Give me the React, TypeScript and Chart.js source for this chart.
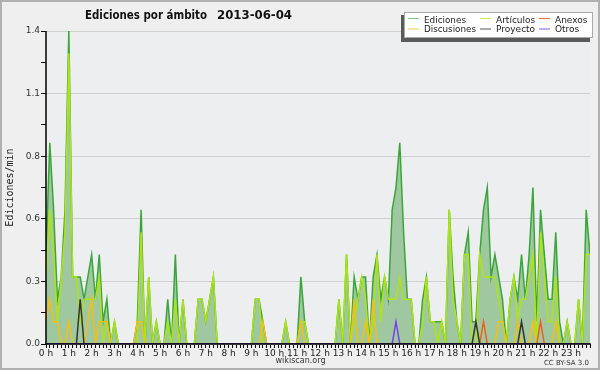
import React, { useEffect, useRef } from 'react';
import { Chart, registerables } from 'chart.js';

Chart.register(...registerables);

const hourLabels = [
  '0 h', '1 h', '2 h', '3 h', '4 h', '5 h', '6 h', '7 h', '8 h', '9 h', '10 h', '11 h',
  '12 h', '13 h', '14 h', '15 h', '16 h', '17 h', '18 h', '19 h', '20 h', '21 h', '22 h', '23 h',
];
const slotMinutes = ['00', '10', '20', '30', '40', '50'];
const timeSlots = hourLabels.flatMap((_, h) => slotMinutes.map((m) => `${h}:${m}`));

const yTicks = [0, 0.14, 0.28, 0.42, 0.56, 0.7, 0.84, 0.98, 1.12, 1.26, 1.4];

const ediciones = [
  0.4, 0.9, 0.6, 0.2, 0.3, 0.6,
  1.4, 0.3, 0.3, 0.3, 0.2, 0.3,
  0.4, 0.2, 0.4, 0.1, 0.2, 0,
  0.1, 0, 0, 0, 0, 0,
  0.1, 0.6, 0, 0.3, 0, 0.1,
  0, 0, 0.2, 0, 0.4, 0,
  0.2, 0, 0, 0, 0.2, 0.2,
  0.1, 0.2, 0.3, 0, 0, 0,
  0, 0, 0, 0, 0, 0,
  0, 0.2, 0.2, 0.1, 0, 0,
  0, 0, 0, 0.1, 0, 0,
  0, 0.3, 0.1, 0, 0, 0,
  0, 0, 0, 0, 0, 0.2,
  0, 0.4, 0, 0.3, 0.2, 0.3,
  0.3, 0, 0.3, 0.4, 0.2, 0.3,
  0.2, 0.6, 0.7, 0.9, 0.5, 0.2,
  0.2, 0, 0, 0.2, 0.3, 0.1,
  0.1, 0.1, 0.1, 0, 0.6, 0.3,
  0.1, 0, 0.4, 0.5, 0.1, 0.1,
  0.4, 0.6, 0.7, 0.3, 0.4, 0.3,
  0.2, 0, 0.2, 0.3, 0.2, 0.4,
  0.2, 0.4, 0.7, 0.1, 0.6, 0.4,
  0.2, 0.2, 0.5, 0.1, 0, 0.1,
  0, 0, 0.2, 0, 0.6, 0.4,
];

const articulos = [
  0.3, 0.6, 0.4, 0.1, 0.3, 0.5,
  1.3, 0.3, 0.3, 0.1, 0.2, 0.2,
  0.2, 0.2, 0.3, 0, 0.1, 0,
  0.1, 0, 0, 0, 0, 0,
  0, 0.5, 0, 0.3, 0, 0.1,
  0, 0, 0.1, 0, 0.2, 0,
  0.2, 0, 0, 0, 0.2, 0.2,
  0.1, 0.2, 0.3, 0, 0, 0,
  0, 0, 0, 0, 0, 0,
  0, 0.2, 0.2, 0, 0, 0,
  0, 0, 0, 0.1, 0, 0,
  0, 0.1, 0.1, 0, 0, 0,
  0, 0, 0, 0, 0, 0.2,
  0, 0.4, 0, 0.1, 0.2, 0.3,
  0.2, 0, 0.1, 0.4, 0.1, 0.3,
  0.2, 0.2, 0.2, 0.3, 0.2, 0.2,
  0.2, 0, 0, 0.1, 0.3, 0.1,
  0.1, 0, 0.1, 0, 0.6, 0.2,
  0.1, 0, 0.4, 0.4, 0, 0,
  0.4, 0.3, 0.3, 0.3, 0.3, 0.2,
  0.1, 0, 0.2, 0.3, 0.1, 0.2,
  0.2, 0.3, 0.4, 0, 0.5, 0.3,
  0.1, 0.1, 0.3, 0, 0, 0.1,
  0, 0, 0.2, 0, 0.4, 0.4,
];

const discusiones = [
  0.1, 0.2, 0.1, 0.1, 0, 0,
  0.1, 0, 0, 0, 0, 0.1,
  0.2, 0, 0.1, 0.1, 0.1, 0,
  0, 0, 0, 0, 0, 0,
  0.1, 0.1, 0, 0, 0, 0,
  0, 0, 0, 0, 0, 0,
  0, 0, 0, 0, 0, 0,
  0, 0, 0, 0, 0, 0,
  0, 0, 0, 0, 0, 0,
  0, 0, 0, 0.1, 0, 0,
  0, 0, 0, 0, 0, 0,
  0, 0.1, 0, 0, 0, 0,
  0, 0, 0, 0, 0, 0,
  0, 0, 0, 0.2, 0, 0,
  0.1, 0, 0.2, 0, 0, 0,
  0, 0, 0, 0, 0, 0,
  0, 0, 0, 0, 0, 0,
  0, 0, 0, 0, 0, 0,
  0, 0, 0, 0, 0, 0,
  0, 0, 0, 0, 0, 0.1,
  0.1, 0, 0, 0, 0.1, 0,
  0, 0, 0.1, 0, 0, 0,
  0, 0, 0.1, 0, 0, 0,
  0, 0, 0, 0, 0, 0,
];

const anexos = [
  0, 0, 0, 0, 0, 0,
  0, 0, 0, 0, 0, 0,
  0, 0, 0, 0, 0, 0,
  0, 0, 0, 0, 0, 0,
  0, 0, 0, 0, 0, 0,
  0, 0, 0, 0, 0, 0,
  0, 0, 0, 0, 0, 0,
  0, 0, 0, 0, 0, 0,
  0, 0, 0, 0, 0, 0,
  0, 0, 0, 0, 0, 0,
  0, 0, 0, 0, 0, 0,
  0, 0, 0, 0, 0, 0,
  0, 0, 0, 0, 0, 0,
  0, 0, 0, 0, 0, 0,
  0, 0, 0, 0, 0, 0,
  0, 0, 0, 0, 0, 0,
  0, 0, 0, 0, 0, 0,
  0, 0, 0, 0, 0, 0,
  0, 0, 0, 0, 0, 0,
  0, 0.1, 0, 0, 0, 0,
  0, 0, 0, 0, 0, 0,
  0, 0, 0, 0, 0.1, 0,
  0, 0, 0, 0, 0, 0,
  0, 0, 0, 0, 0, 0,
];

const proyecto = [
  0, 0, 0, 0, 0, 0,
  0, 0, 0, 0.2, 0, 0,
  0, 0, 0, 0, 0, 0,
  0, 0, 0, 0, 0, 0,
  0, 0, 0, 0, 0, 0,
  0, 0, 0, 0, 0, 0,
  0, 0, 0, 0, 0, 0,
  0, 0, 0, 0, 0, 0,
  0, 0, 0, 0, 0, 0,
  0, 0, 0, 0, 0, 0,
  0, 0, 0, 0, 0, 0,
  0, 0, 0, 0, 0, 0,
  0, 0, 0, 0, 0, 0,
  0, 0, 0, 0, 0, 0,
  0, 0, 0, 0, 0, 0,
  0, 0, 0, 0, 0, 0,
  0, 0, 0, 0, 0, 0,
  0, 0, 0, 0, 0, 0,
  0, 0, 0, 0, 0, 0.1,
  0, 0, 0, 0, 0, 0,
  0, 0, 0, 0, 0, 0.1,
  0, 0, 0, 0, 0, 0,
  0, 0, 0, 0, 0, 0,
  0, 0, 0, 0, 0, 0,
];

const otros = [
  0, 0, 0, 0, 0, 0,
  0, 0, 0, 0, 0, 0,
  0, 0, 0, 0, 0, 0,
  0, 0, 0, 0, 0, 0,
  0, 0, 0, 0, 0, 0,
  0, 0, 0, 0, 0, 0,
  0, 0, 0, 0, 0, 0,
  0, 0, 0, 0, 0, 0,
  0, 0, 0, 0, 0, 0,
  0, 0, 0, 0, 0, 0,
  0, 0, 0, 0, 0, 0,
  0, 0, 0, 0, 0, 0,
  0, 0, 0, 0, 0, 0,
  0, 0, 0, 0, 0, 0,
  0, 0, 0, 0, 0, 0,
  0, 0, 0.1, 0, 0, 0,
  0, 0, 0, 0, 0, 0,
  0, 0, 0, 0, 0, 0,
  0, 0, 0, 0, 0, 0,
  0, 0, 0, 0, 0, 0,
  0, 0, 0, 0, 0, 0,
  0, 0, 0, 0, 0, 0,
  0, 0, 0, 0, 0, 0,
  0, 0, 0, 0, 0, 0,
];

const titleText = 'Ediciones por ámbito';
const dateText = '2013-06-04';
const yTitle = 'Ediciones/min';

const COL = {
  ediciones: '#3aa63a',
  edicionesFill: '#a0c8a0',
  articulos: '#aee414',
  discusiones: '#f2c010',
  anexos: '#f06020',
  proyecto: '#333333',
  otros: '#7a40f0',
};

const legendItems = [
  { label: 'Ediciones', color: '#7cc87c', col: 0, row: 0, w: 42 },
  { label: 'Artículos', color: '#c4ee50', col: 1, row: 0, w: 41 },
  { label: 'Anexos', color: '#f07040', col: 2, row: 0, w: 33 },
  { label: 'Discusiones', color: '#f4cc48', col: 0, row: 1, w: 52 },
  { label: 'Proyecto', color: '#555555', col: 1, row: 1, w: 40 },
  { label: 'Otros', color: '#8a55f0', col: 2, row: 1, w: 25 },
];

const decorPlugin = {
  id: 'decor',
  beforeDraw(chart: any) {
    const { ctx, chartArea: a, width, height } = chart;
    ctx.save();
    ctx.fillStyle = '#efefef';
    ctx.fillRect(0, 0, width, height);
    ctx.strokeStyle = '#b0b0b0';
    ctx.lineWidth = 2;
    ctx.strokeRect(1, 1, width - 2, height - 2);
    ctx.fillStyle = '#eceef0';
    ctx.fillRect(a.left, a.top, a.right - a.left, a.bottom - a.top);
    ctx.restore();
  },
  afterDatasetsDraw(chart: any) {
    const { ctx, chartArea: a } = chart;
    ctx.save();
    ctx.fillStyle = '#000';
    ctx.fillRect(a.left - 0.75, a.top, 1.5, a.bottom - a.top + 0.75);
    ctx.fillRect(a.left - 0.75, a.bottom - 0.75, a.right - a.left + 1.5, 1.5);
    ctx.restore();
  },
  afterDraw(chart: any) {
    const { ctx } = chart;
    ctx.save();
    // title
    ctx.fillStyle = '#111';
    ctx.textBaseline = 'alphabetic';
    ctx.textAlign = 'left';
    ctx.font = 'bold 12px "DejaVu Sans"';
    ctx.fillText(titleText, 85, 18.5, 122);
    ctx.fillText(dateText, 217, 18.5, 75);

    // legend
    ctx.fillStyle = '#5a5a5a';
    ctx.fillRect(401, 15, 189, 27);
    ctx.fillStyle = '#fff';
    ctx.fillRect(404, 12, 189, 26);
    ctx.strokeStyle = '#aaa';
    ctx.lineWidth = 1;
    ctx.strokeRect(404.5, 12.5, 188, 25);
    const colLine = [408, 480, 539];
    const colText = [424, 496, 555];
    const rowLine = [18.5, 29];
    const rowBase = [22.5, 32];
    ctx.font = '9px "DejaVu Sans"';
    legendItems.forEach((it) => {
      ctx.strokeStyle = it.color;
      ctx.lineWidth = 1;
      ctx.beginPath();
      ctx.moveTo(colLine[it.col], rowLine[it.row]);
      ctx.lineTo(colLine[it.col] + 11, rowLine[it.row]);
      ctx.stroke();
      ctx.fillStyle = '#222';
      ctx.fillText(it.label, colText[it.col], rowBase[it.row], it.w);
    });

    // footer
    ctx.fillStyle = '#333';
    ctx.textAlign = 'center';
    ctx.font = '9px "DejaVu Sans"';
    ctx.fillText('wikiscan.org', 300.5, 363, 50);
    ctx.textAlign = 'right';
    ctx.font = '7px "DejaVu Sans"';
    ctx.fillText('CC BY-SA 3.0', 589, 365);

    // y title
    ctx.translate(10.5, 187.5);
    ctx.rotate(-Math.PI / 2);
    ctx.textAlign = 'center';
    ctx.textBaseline = 'middle';
    ctx.fillStyle = '#222';
    ctx.font = '10px "DejaVu Sans Mono"';
    ctx.fillText(yTitle, 0, 0);
    ctx.restore();
  },
};

export default function App() {
  const ref = useRef<HTMLCanvasElement>(null);

  useEffect(() => {
    document.body.style.margin = '0';
    const canvas = ref.current;
    if (!canvas) return;
    const line = (label: string, data: number[], color: string, order: number, extra: any = {}) => ({
      label,
      data,
      borderColor: color,
      borderWidth: 1.5,
      pointRadius: 0,
      tension: 0,
      fill: false,
      order,
      clip: 0,
      ...extra,
    });
    const chart = new Chart(canvas, {
      type: 'line',
      data: {
        labels: timeSlots,
        datasets: [
          line('Ediciones', ediciones, COL.ediciones, 6, { fill: 'origin', backgroundColor: COL.edicionesFill }),
          line('Artículos', articulos, COL.articulos, 5),
          line('Discusiones', discusiones, COL.discusiones, 4),
          line('Anexos', anexos, COL.anexos, 3),
          line('Proyecto', proyecto, COL.proyecto, 2),
          line('Otros', otros, COL.otros, 1),
        ],
      },
      options: {
        responsive: false,
        animation: false,
        devicePixelRatio: 1,
        layout: { padding: { top: 31, right: 10, bottom: 10, left: 0 } },
        plugins: {
          legend: { display: false },
          title: { display: false },
          tooltip: { enabled: false },
        },
        scales: {
          x: {
            type: 'category',
            offset: false,
            afterFit: (s: any) => { s.height = 16; },
            ticks: {
              autoSkip: false,
              maxRotation: 0,
              minRotation: 0,
              padding: 0,
              color: '#222',
              font: { family: 'DejaVu Sans', size: 9 },
              callback: (_v: any, i: number) => (i % 6 === 0 ? hourLabels[i / 6] : ''),
            },
            grid: { drawOnChartArea: false, drawTicks: true, tickLength: 4, tickColor: '#000', color: '#000' },
            border: { display: false },
          },
          y: {
            min: 0,
            max: 1.4,
            afterFit: (s: any) => { s.width = 46; },
            afterBuildTicks: (s: any) => { s.ticks = yTicks.map((v) => ({ value: v })); },
            ticks: {
              autoSkip: false,
              padding: 1,
              color: '#333',
              font: { family: 'DejaVu Sans', size: 9 },
              callback: (v: any, i: number) => (i % 2 === 0 ? Number(v).toFixed(1) : ''),
            },
            grid: {
              color: (c: any) => (c.index % 2 === 0 ? '#cfcfcf' : 'rgba(0,0,0,0)'),
              tickColor: '#000',
              tickLength: 5,
              drawTicks: true,
            },
            border: { display: false },
          },
        },
      },
      plugins: [decorPlugin],
    } as any);
    return () => chart.destroy();
  }, []);

  return (
    <canvas
      ref={ref}
      width={600}
      height={370}
      style={{ display: 'block', width: 600, height: 370 }}
    />
  );
}
